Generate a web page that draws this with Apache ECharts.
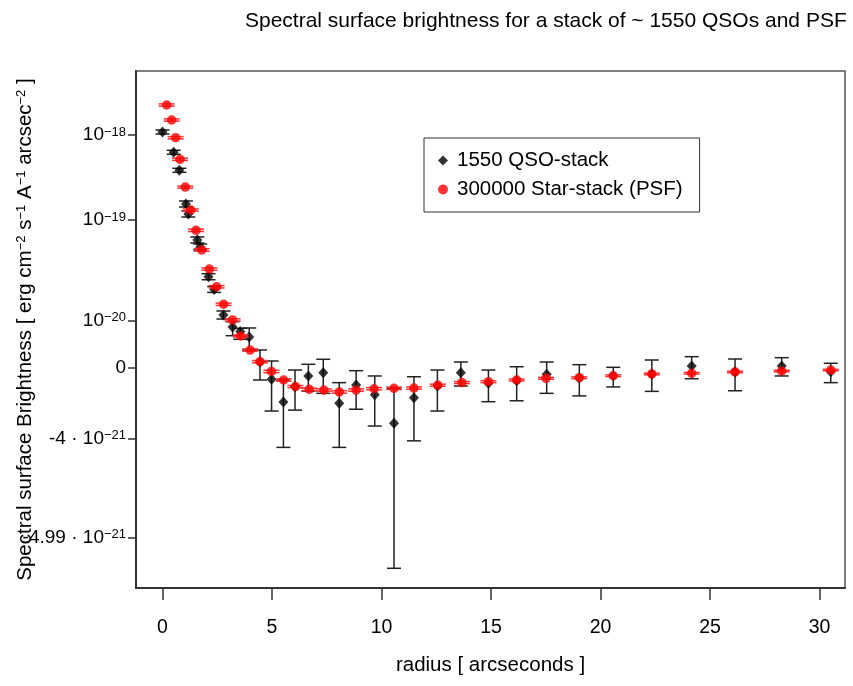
<!DOCTYPE html>
<html>
<head>
<meta charset="utf-8">
<script src="https://cdn.jsdelivr.net/npm/echarts@6/dist/echarts.min.js"></script>
<style>
  html, body { margin: 0; padding: 0; background: #fff; }
  #chart { width: 853px; height: 686px; }
</style>
</head>
<body>
<div id="chart"></div>
<script>
// ---------------- data (flux values in units of 1e-21 erg cm^-2 s^-1 A^-1 arcsec^-2) ----------------
const FLUX_UNIT = 1e-21;

const qsoRadius = [0.0, 0.51, 0.77, 1.07, 1.18, 1.59, 1.72, 2.10, 2.36, 2.78, 3.20, 3.55, 3.96, 4.45, 4.98,
  5.52, 6.05, 6.66, 7.34, 8.07, 8.84, 9.69, 10.57, 11.48, 12.55, 13.62, 14.88, 16.17, 17.54, 19.03,
  20.58, 22.34, 24.16, 26.14, 28.27, 30.51];
const qsoFlux = [1083, 630, 388.5, 155.7, 118.2, 66.3, 57.3, 30.0, 22.3, 11.63, 7.87, 6.61, 5.23, 0.75, -1.11,
  -2.67, -1.70, -0.81, -0.49, -2.73, -1.57, -2.25, -3.57, -2.43, -1.65, -0.49, -1.44, -1.23, -0.65, -0.97,
  -0.79, -0.62, 0.24, -0.42, 0.24, -0.39];
const qsoFluxLow = [1027, 597, 368, 143.4, 108.7, 62.3, 53.8, 28.0, 20.8, 10.38, 5.54, 4.70, 2.58, -1.17, -3.10,
  -4.20, -3.06, -2.01, -2.16, -4.20, -3.02, -3.66, -5.053, -4.06, -3.10, -1.65, -2.65, -2.60, -2.16, -2.32,
  -1.72, -2.03, -1.06, -1.99, -0.81, -1.39];
const qsoFluxHigh = [1143, 664, 410, 169, 128.5, 70.6, 61.0, 32.1, 23.9, 12.98, 9.53, 7.49, 7.58, 2.58, 0.88,
  -1.17, -0.22, 0.45, 1.12, -1.39, -0.29, -0.81, -1.82, -0.88, -0.22, 0.75, -0.22, 0.15, 0.75, 0.40,
  0.08, 1.02, 1.50, 1.16, 1.35, 0.58];

const psfRadius = [0.19, 0.42, 0.60, 0.80, 1.04, 1.29, 1.53, 1.79, 2.14, 2.47, 2.79, 3.20, 3.57, 4.00, 4.45,
  4.97, 5.53, 6.07, 6.70, 7.37, 8.07, 8.84, 9.66, 10.57, 11.48, 12.57, 13.67, 14.88, 16.17, 17.51,
  19.03, 20.58, 22.34, 24.16, 26.14, 28.27, 30.51];
const psfFlux = [2225, 1492, 930, 522, 247, 132, 81.0, 53.8, 35.6, 23.8, 15.5, 10.1, 5.47, 2.58, 0.79,
  -0.37, -1.17, -1.69, -1.89, -1.94, -2.07, -1.94, -1.85, -1.82, -1.80, -1.59, -1.38, -1.31, -1.17, -1.02,
  -0.97, -0.79, -0.62, -0.55, -0.42, -0.32, -0.22];
const psfFluxErr = [65, 44, 27, 15, 7, 3.9, 2.0, 1.4, 0.9, 0.65, 0.45, 0.35, 0.25, 0.2, 0.15,
  0.12, 0.1, 0.08, 0.08, 0.08, 0.08, 0.08, 0.08, 0.08, 0.08, 0.08, 0.08, 0.08, 0.08, 0.08,
  0.08, 0.08, 0.08, 0.08, 0.08, 0.08, 0.08];

const xTickValues = [0, 5, 10, 15, 20, 25, 30];
const yTickValues = [-4.99, -4, 0, 10, 100, 1000];
const yTickLabels = ['-4.99 · 10{sup|−21}', '-4 · 10{sup|−21}', '0', '10{sup|−20}', '10{sup|−19}', '10{sup|−18}'];

const titleText = 'Spectral surface brightness for a stack of ~ 1550 QSOs and PSF';
const xName = 'radius [ arcseconds ]';
const yName = 'Spectral surface Brightness [ erg cm{sup|−2} s{sup|−1} A{sup|−1} arcsec{sup|−2} ]';
const qsoName = '1550 QSO-stack';
const psfName = '300000 Star-stack (PSF)';

// ---------------- y scale definition (log of offset flux, piecewise calibrated at tick values) ----------------
const SCALE_OFFSET = 5.12;
const scaleAxisUnits = [-169.7, -70.3, 0, 47.7, 148, 233];
const scaleW = yTickValues.map(v => Math.log10(v + SCALE_OFFSET));
function toAxis(v) {
  const w = Math.log10(v + SCALE_OFFSET);
  let i = 0;
  while (i < scaleW.length - 2 && w > scaleW[i + 1]) i++;
  const t = (w - scaleW[i]) / (scaleW[i + 1] - scaleW[i]);
  return scaleAxisUnits[i] + t * (scaleAxisUnits[i + 1] - scaleAxisUnits[i]);
}
const yTickPos = yTickValues.map(toAxis);

// ---------------- build series data ----------------
const qsoPoints = qsoRadius.map((r, i) => [r, toAxis(qsoFlux[i])]);
const qsoBars = qsoRadius.map((r, i) => [r, toAxis(qsoFluxLow[i]), toAxis(qsoFluxHigh[i])]);
const psfPoints = psfRadius.map((r, i) => [r, toAxis(psfFlux[i])]);
const psfBars = psfRadius.map((r, i) => [r, toAxis(psfFlux[i] - psfFluxErr[i]), toAxis(psfFlux[i] + psfFluxErr[i])]);

const FONT = '"Liberation Sans", Arial, Helvetica, sans-serif';

function errRenderer(color, capW, lw) {
  return function (params, api) {
    const x = api.value(0);
    const pLo = api.coord([x, api.value(1)]);
    const pHi = api.coord([x, api.value(2)]);
    const h = capW / 2;
    const st = { stroke: color, lineWidth: lw };
    return {
      type: 'group',
      children: [
        { type: 'line', shape: { x1: pLo[0], y1: pLo[1], x2: pHi[0], y2: pHi[1] }, style: st },
        { type: 'line', shape: { x1: pLo[0] - h, y1: pLo[1], x2: pLo[0] + h, y2: pLo[1] }, style: st },
        { type: 'line', shape: { x1: pHi[0] - h, y1: pHi[1], x2: pHi[0] + h, y2: pHi[1] }, style: st }
      ]
    };
  };
}

const supStyle = { fontSize: 13, verticalAlign: 'top', lineHeight: 13, fontFamily: FONT, color: '#000' };

const chart = echarts.init(document.getElementById('chart'), null, { renderer: 'canvas' });
chart.setOption({
  animation: false,
  backgroundColor: '#fff',
  title: {
    text: titleText,
    left: 240, top: 6,
    textStyle: { fontSize: 21, fontWeight: 'normal', color: '#000', fontFamily: FONT }
  },
  legend: {
    orient: 'vertical',
    left: 424, top: 138,
    borderColor: '#333', borderWidth: 1,
    padding: [12, 17, 12, 14],
    itemGap: 8,
    itemWidth: 10, itemHeight: 10,
    textStyle: { fontSize: 20.5, color: '#000', fontFamily: FONT, padding: [0, 0, 0, 4] },
    data: [
      { name: qsoName, icon: 'diamond', itemStyle: { color: '#000' } },
      { name: psfName, icon: 'circle', itemStyle: { color: '#ff0000' } }
    ]
  },
  grid: {
    left: 136, right: 8, top: 71, bottom: 98,
    containLabel: false, outerBoundsMode: 'none',
    show: true, borderColor: '#555', borderWidth: 1.5, backgroundColor: 'transparent'
  },
  xAxis: {
    type: 'value',
    min: -1.21, max: 31.16,
    name: xName, nameLocation: 'middle', nameGap: 67, nameMoveOverlap: false,
    nameTextStyle: { fontSize: 20.5, color: '#000', fontFamily: FONT },
    axisLine: { show: true, onZero: false, lineStyle: { color: '#333', width: 2 } },
    axisTick: { show: true, inside: false, length: 12, customValues: xTickValues, lineStyle: { color: '#333', width: 1.5 } },
    axisLabel: { customValues: xTickValues, margin: 30, fontSize: 19.5, color: '#000', fontFamily: FONT },
    splitLine: { show: false }
  },
  yAxis: {
    type: 'value',
    min: -220, max: 297,
    name: yName, nameLocation: 'middle', nameRotate: 90, nameGap: 100, nameMoveOverlap: false,
    nameTextStyle: { fontSize: 20.5, color: '#000', fontFamily: FONT, rich: { sup: supStyle } },
    axisLine: { show: true, onZero: false, lineStyle: { color: '#333', width: 2 } },
    axisTick: { show: true, inside: false, length: 8, customValues: yTickPos, lineStyle: { color: '#333', width: 1.5 } },
    axisLabel: {
      customValues: yTickPos, margin: 10, fontSize: 19, color: '#000', fontFamily: FONT,
      rich: { sup: supStyle },
      formatter: function (val) {
        let best = 0;
        for (let i = 1; i < yTickPos.length; i++) {
          if (Math.abs(yTickPos[i] - val) < Math.abs(yTickPos[best] - val)) best = i;
        }
        return yTickLabels[best];
      }
    },
    splitLine: { show: false }
  },
  series: [
    {
      type: 'custom', name: 'qsoErr', renderItem: errRenderer('#222', 14, 1.5),
      data: qsoBars, encode: { x: 0, y: [1, 2] }, z: 2, silent: true
    },
    {
      type: 'scatter', name: qsoName, data: qsoPoints, symbol: 'diamond', symbolSize: [10, 11],
      itemStyle: { color: '#000' }, z: 3
    },
    {
      type: 'custom', name: 'psfErr', renderItem: errRenderer('#ff3333', 16, 1.5),
      data: psfBars, encode: { x: 0, y: [1, 2] }, z: 4, silent: true
    },
    {
      type: 'scatter', name: psfName, data: psfPoints, symbol: 'circle', symbolSize: 9.5,
      itemStyle: { color: '#ff0000' }, z: 5
    }
  ]
});
</script>
</body>
</html>
